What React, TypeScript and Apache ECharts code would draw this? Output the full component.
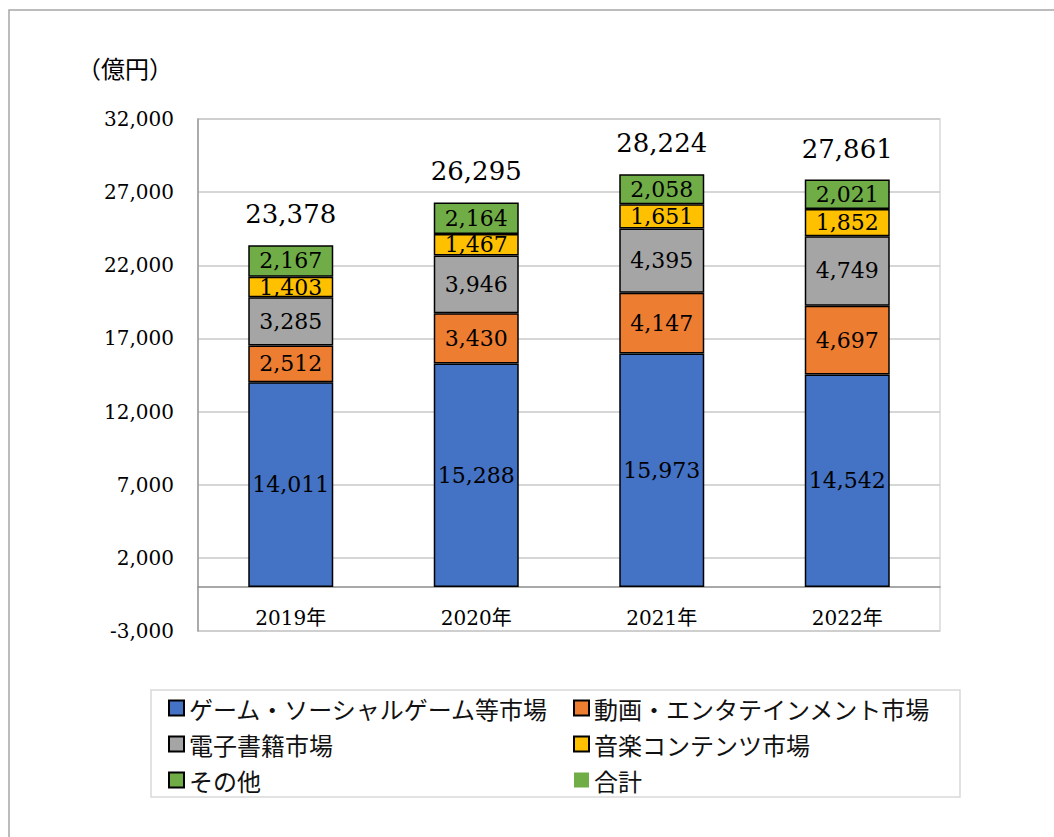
import React, { useEffect, useRef } from 'react';
import * as echarts from 'echarts';

const years = ['2019年', '2020年', '2021年', '2022年'];
const gameValues = [14011, 15288, 15973, 14542];
const videoValues = [2512, 3430, 4147, 4697];
const ebookValues = [3285, 3946, 4395, 4749];
const musicValues = [1403, 1467, 1651, 1852];
const otherValues = [2167, 2164, 2058, 2021];
const totalValues = [23378, 26295, 28224, 27861];

const seriesNames = [
  'ゲーム・ソーシャルゲーム等市場',
  '動画・エンタテインメント市場',
  '電子書籍市場',
  '音楽コンテンツ市場',
  'その他',
  '合計',
];
const seriesColors = ['#4472C4', '#ED7D31', '#A5A5A5', '#FFC000', '#70AD47', '#70AD47'];

const yMin = -3000;
const yMax = 32000;
const yInterval = 5000;
const unitLabel = '（億円）';

const SERIF = "'DejaVu Serif', 'Noto Sans CJK JP', serif";
const JP = "'Noto Sans CJK JP', sans-serif";

const fmt = (v: number) => v.toLocaleString('en-US');

export default function App() {
  const ref = useRef<HTMLDivElement>(null);

  useEffect(() => {
    if (!ref.current) return;
    const chart = echarts.init(ref.current, undefined, { renderer: 'svg' });
    const stacks = [gameValues, videoValues, ebookValues, musicValues, otherValues];

    const barSeries = stacks.map((vals, i) => ({
      name: seriesNames[i],
      type: 'bar',
      stack: 'total',
      barWidth: 85,
      data: vals,
      itemStyle: { color: seriesColors[i], borderColor: '#000', borderWidth: 1.5 },
      label: {
        show: true,
        position: 'inside',
        fontSize: 22,
        fontFamily: SERIF,
        color: '#000',
        formatter: (p: any) => fmt(p.value),
      },
    }));

    const legendText = { fontSize: 24, fontFamily: JP, color: '#111', lineHeight: 24 };

    const option: any = {
      animation: false,
      backgroundColor: '#fff',
      grid: {
        left: 198,
        right: 114,
        top: 119,
        bottom: 206,
        show: true,
        borderColor: '#d9d9d9',
        borderWidth: 1.5,
        containLabel: false,
      },
      xAxis: {
        type: 'category',
        data: years,
        axisLine: { onZero: true, lineStyle: { color: '#8c8c8c', width: 1.5 } },
        axisTick: { show: false },
        axisLabel: { fontSize: 20, fontFamily: SERIF, color: '#000', margin: -23 },
        z: 1,
      },
      yAxis: {
        type: 'value',
        min: yMin,
        max: yMax,
        interval: yInterval,
        axisLine: { show: true, lineStyle: { color: '#999', width: 1.5 } },
        axisTick: { show: false },
        splitLine: { show: true, lineStyle: { color: '#c8c8c8', width: 1.5 } },
        axisLabel: {
          fontSize: 20,
          fontFamily: SERIF,
          color: '#000',
          margin: 24,
          formatter: (v: number) => fmt(v),
        },
      },
      legend: [
        {
          orient: 'vertical',
          left: 168,
          top: 696,
          padding: 0,
          itemGap: 12,
          itemWidth: 15,
          itemHeight: 15,
          textStyle: legendText,
          data: [seriesNames[0], seriesNames[2], seriesNames[4]].map((n) => ({ name: n, icon: 'rect' })),
        },
        {
          orient: 'vertical',
          left: 573,
          top: 696,
          padding: 0,
          itemGap: 12,
          itemWidth: 15,
          itemHeight: 15,
          textStyle: legendText,
          data: [
            { name: seriesNames[1], icon: 'rect' },
            { name: seriesNames[3], icon: 'rect' },
            { name: seriesNames[5], icon: 'rect', itemStyle: { color: seriesColors[5], borderWidth: 0, opacity: 1 } },
          ],
        },
      ],
      graphic: [
        {
          type: 'rect',
          shape: { x: 9, y: 10, width: 1200, height: 1000 },
          style: { fill: 'none', stroke: '#a6a6a6', lineWidth: 1.5 },
          silent: true,
          z: -1,
        },
        {
          type: 'rect',
          shape: { x: 151, y: 690, width: 809, height: 107 },
          style: { fill: 'none', stroke: '#d9d9d9', lineWidth: 1.5 },
          silent: true,
        },
        {
          type: 'text',
          x: 77,
          y: 67,
          style: {
            text: unitLabel,
            fontSize: 24,
            fontFamily: JP,
            fill: '#000',
            verticalAlign: 'middle',
          },
        },
      ],
      series: [
        ...barSeries,
        {
          name: seriesNames[5],
          type: 'scatter',
          data: totalValues,
          symbolSize: 0,
          itemStyle: { color: seriesColors[5], opacity: 1 },
          label: {
            show: true,
            position: 'top',
            distance: 18,
            fontSize: 26,
            fontFamily: SERIF,
            color: '#000',
            opacity: 1,
            formatter: (p: any) => fmt(p.value),
          },
          z: 5,
        },
      ],
    };

    chart.setOption(option);
    return () => chart.dispose();
  }, []);

  return (
    <div
      ref={ref}
      style={{ position: 'absolute', left: 0, top: 0, width: 1054, height: 837 }}
    />
  );
}
